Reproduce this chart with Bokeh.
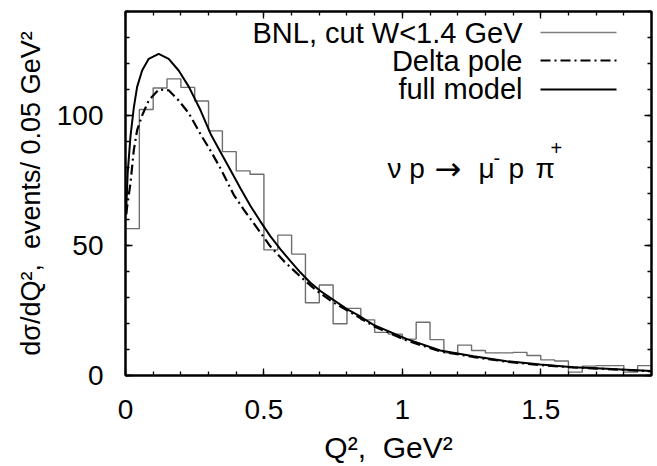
from bokeh.plotting import figure
from bokeh.models import (LinearAxis, FixedTicker, CustomJSTickFormatter, Label, Arrow,
                          CustomLabelingPolicy)
from bokeh.embed import file_html
from bokeh.resources import INLINE

# ---------------- data ----------------
bin_width = 0.05
hist_left = [round(i * bin_width, 2) for i in range(38)]
hist_counts = [56.5, 102.3, 110.6, 114.1, 110.8, 105.6, 94.1, 86.1, 78.7, 77.4,
               48.3, 54.0, 46.7, 28.0, 34.8, 19.9, 25.8, 21.4, 16.6, 15.9,
               14.0, 20.5, 13.8, 8.7, 11.7, 9.6, 8.7, 8.7, 8.9, 7.7,
               6.0, 5.6, 1.3, 3.6, 3.8, 3.8, 1.3, 3.8]

full_q2 = [0.003, 0.008, 0.018, 0.030, 0.042, 0.060, 0.084, 0.12, 0.156, 0.192,
           0.229, 0.271, 0.307, 0.343, 0.379, 0.415, 0.451, 0.487, 0.523, 0.56,
           0.596, 0.632, 0.668, 0.704, 0.752, 0.8, 0.848, 0.896, 1.017, 1.137,
           1.257, 1.377, 1.498, 1.618, 1.739, 1.9]
full_val = [65.0, 78.0, 92.0, 103.0, 111.0, 117.3, 121.8, 123.7, 121.8, 117.3,
            111.0, 102.0, 93.0, 86.0, 79.0, 72.0, 65.3, 59.3, 53.6, 48.5,
            44.0, 39.6, 35.7, 32.5, 29.0, 25.5, 22.7, 19.5, 14.0, 9.6,
            7.4, 5.5, 4.2, 3.2, 2.6, 1.7]

delta_q2 = [0.003, 0.006, 0.018, 0.030, 0.042, 0.060, 0.084, 0.12, 0.156, 0.192,
            0.229, 0.271, 0.307, 0.343, 0.391, 0.427, 0.475, 0.523, 0.572, 0.632,
            0.692, 0.752, 0.824, 0.896, 1.017, 1.137, 1.257, 1.377, 1.498, 1.618,
            1.739, 1.9]
delta_val = [62.0, 65.0, 74.0, 86.7, 94.4, 100.0, 105.8, 110.0, 109.7, 105.8,
             100.8, 92.8, 86.5, 79.7, 69.5, 63.8, 56.8, 49.7, 44.0, 38.0,
             32.5, 28.0, 23.6, 19.0, 13.4, 9.3, 7.1, 5.3, 4.0, 3.1,
             2.5, 1.6]

x_major = [0, 0.5, 1, 1.5]
x_minor = [round(i * 0.1, 1) for i in range(20)]
y_major = [0, 50, 100]
y_minor = list(range(0, 141, 10))

legend_labels = ["BNL, cut W<1.4 GeV", "Delta pole", "full model"]
x_title = "Q²,\u00a0 GeV²"
y_title = "dσ/dQ²,\u00a0 events/ 0.05 GeV²"

FONT = "Liberation Sans"
FS = "28px"

p = figure(width=657, height=466, x_range=(0, 1.9), y_range=(0, 140),
           output_backend="svg", toolbar_location=None,
           min_border_left=125, min_border_right=6, min_border_top=11,
           min_border_bottom=90, background_fill_color="white",
           border_fill_color="white")
p.xgrid.visible = False
p.ygrid.visible = False
p.outline_line_color = "black"
p.outline_line_width = 2

# histogram as step outline
step_x = hist_left + [hist_left[-1] + bin_width]
step_y = hist_counts + [hist_counts[-1]]
p.step(step_x, step_y, mode="after", line_color="#6e6e6e", line_width=1.4)

# curves
p.line(delta_q2, delta_val, line_color="black", line_width=2.2, line_dash="10 4 2 4")
p.line(full_q2, full_val, line_color="black", line_width=2.0)

fmt = CustomJSTickFormatter(code="return tick.toString();")
no_labels = CustomLabelingPolicy(code="""
    for (const i of indices) { indices.unset(i) }
    return indices
""")

def style_axis(ax, show_labels=True):
    ax.axis_line_width = 2
    ax.axis_line_color = "black"
    ax.major_tick_in = 7
    ax.major_tick_out = 0
    ax.minor_tick_in = 4
    ax.minor_tick_out = 0
    ax.major_tick_line_width = 1.3
    ax.minor_tick_line_width = 1.3
    ax.major_label_text_font = FONT
    ax.major_label_text_color = "black"
    ax.axis_label_text_font = FONT
    ax.axis_label_text_font_style = "normal"
    ax.axis_label_text_color = "black"
    ax.axis_label_text_font_size = FS
    if show_labels:
        ax.major_label_text_font_size = FS
    else:
        ax.major_label_text_font_size = "1px"
        ax.major_label_standoff = 0
        ax.major_label_policy = no_labels

xa = p.xaxis[0]
xa.ticker = FixedTicker(ticks=x_major, minor_ticks=x_minor)
xa.formatter = fmt
style_axis(xa)
xa.major_label_standoff = 24
xa.axis_label = x_title
xa.axis_label_text_font_size = "30px"
xa.axis_label_standoff = 9

ya = p.yaxis[0]
ya.ticker = FixedTicker(ticks=y_major, minor_ticks=y_minor)
ya.formatter = fmt
style_axis(ya)
ya.major_label_standoff = 22
ya.axis_label = y_title
ya.axis_label_text_font_size = "27px"
ya.axis_label_standoff = 8

top = LinearAxis(ticker=FixedTicker(ticks=x_major, minor_ticks=x_minor))
style_axis(top, show_labels=False)
p.add_layout(top, "above")
right = LinearAxis(ticker=FixedTicker(ticks=y_major, minor_ticks=y_minor))
style_axis(right, show_labels=False)
p.add_layout(right, "right")

# legend (text right aligned, sample line to the right)
leg_rows_y = [343, 315, 287]
line_rows_y = [343, 315, 286]
leg_styles = [dict(line_color="#808080", line_width=1.6),
              dict(line_color="black", line_width=2.2, line_dash="10 4 2 4"),
              dict(line_color="black", line_width=2.0)]
for lab, ty, ly, st in zip(legend_labels, leg_rows_y, line_rows_y, leg_styles):
    p.add_layout(Label(x=397, y=ty, x_units="screen", y_units="screen", text=lab,
                       text_align="right", text_baseline="alphabetic",
                       text_font=FONT, text_font_size="29px", text_color="black"))
    p.add_layout(Arrow(end=None, x_start=415, x_end=491, y_start=ly, y_end=ly,
                       start_units="screen", end_units="screen", **st))

# reaction annotation
parts = [("ν p", 262, 207, FONT, FS), ("→", 309, 207, "DejaVu Sans", "32px"),
         ("μ", 353, 207, FONT, FS), ("-", 368, 218, FONT, "20px"),
         ("p", 383, 207, FONT, FS), ("π", 410, 207, FONT, FS),
         ("+", 425, 228, FONT, "20px")]
for t, sx, sy, fnt, fs in parts:
    p.add_layout(Label(x=sx, y=sy, x_units="screen", y_units="screen", text=t,
                       text_align="left", text_baseline="alphabetic",
                       text_font=fnt, text_font_size=fs, text_color="black"))

open("out.html", "w").write(file_html(p, INLINE))
